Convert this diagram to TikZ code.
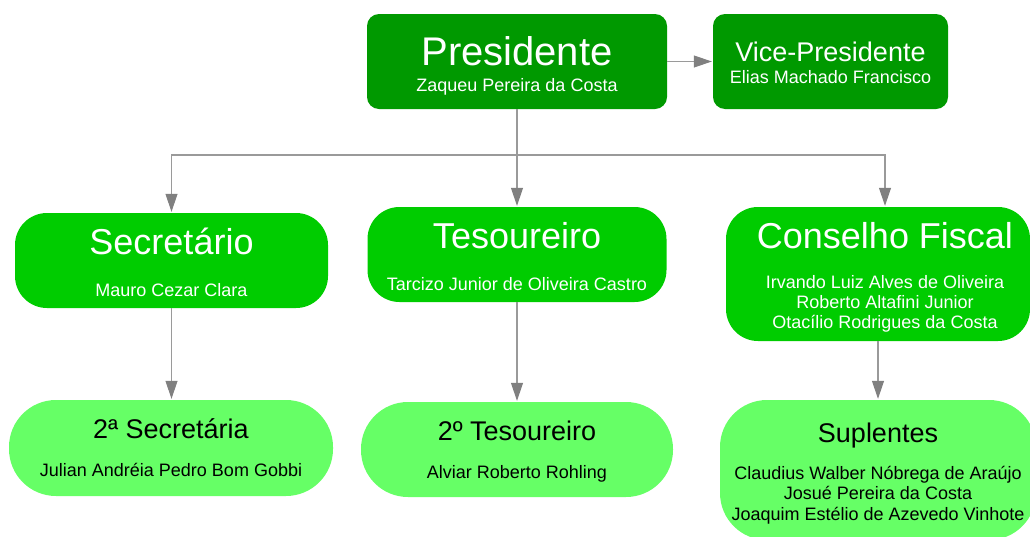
\documentclass[tikz,border=0pt]{standalone}
\usepackage{fontspec}
\setmainfont{Liberation Sans}
\usetikzlibrary{arrows.meta}
\definecolor{gdark}{HTML}{009900}
\definecolor{gmid}{HTML}{00CC00}
\definecolor{glight}{HTML}{66FF66}
\definecolor{conncol}{HTML}{9A9A9A}
\definecolor{tipcol}{HTML}{808080}
\begin{document}
\begin{tikzpicture}[x=1pt,y=-1pt,
  boxone/.style={rectangle, draw=none, fill=gdark, rounded corners=12pt, inner sep=0pt},
  boxtwo/.style={rectangle, draw=none, fill=gmid, rounded corners=32pt, inner sep=0pt},
  boxthree/.style={rectangle, draw=none, fill=glight, rounded corners=47pt, inner sep=0pt},
  txt/.style={anchor=base, inner sep=0pt},
  bigw/.style={txt, text=white, font=\fontsize{40}{48}\selectfont},
  midw/.style={txt, text=white, font=\fontsize{36}{43}\selectfont},
  smallw/.style={txt, text=white, font=\fontsize{27}{32}\selectfont},
  namew/.style={txt, text=white, font=\fontsize{18}{20}\selectfont},
  titleb/.style={txt, text=black, font=\fontsize{27}{32}\selectfont},
  nameb/.style={txt, text=black, font=\fontsize{18}{20.5}\selectfont},
  conn/.style={draw=conncol, line width=1.1pt},
  arr/.style={conn, -{Triangle[length=18pt,width=12pt,color=tipcol]}, shorten >=1pt}
]
\useasboundingbox (0,0) rectangle (1030,536);

% boxes
\node[boxone, minimum width=300pt, minimum height=95pt] (pres) at (517,61.5) {};
\node[boxone, minimum width=235pt, minimum height=95pt] (vice) at (830.5,61.5) {};
\node[boxtwo, minimum width=313pt, minimum height=95pt] (sec) at (171.5,260.5) {};
\node[boxtwo, minimum width=299pt, minimum height=95pt] (tes) at (517,254.5) {};
\node[boxtwo, minimum width=304pt, minimum height=134pt] (cons) at (878,274) {};
\node[boxthree, minimum width=324pt, minimum height=96pt] (sec2) at (171,448) {};
\node[boxthree, minimum width=312pt, minimum height=95pt] (tes2) at (517,449.5) {};
\node[boxthree, minimum width=316pt, minimum height=140pt] (sup) at (878,470) {};

% texts
\node[bigw] (presT) at (517,65) {Presidente};
\node[namew] (presN) at (517,91) {Zaqueu Pereira da Costa};
\node[smallw] (viceT) at (830.5,61.5) {Vice-Presidente};
\node[namew] (viceN) at (830.5,83) {Elias Machado Francisco};
\node[midw] (secT) at (171.5,254) {Secretário};
\node[namew] (secN) at (171.5,296) {Mauro Cezar Clara};
\node[midw] (tesT) at (517,248) {Tesoureiro};
\node[namew] (tesN) at (517,290) {Tarcizo Junior de Oliveira Castro};
\node[midw] (consT) at (885,248) {Conselho Fiscal};
\node[namew] (consNa) at (885,288) {Irvando Luiz Alves de Oliveira};
\node[namew] (consNb) at (885,308) {Roberto Altafini Junior};
\node[namew] (consNc) at (885,328) {Otacílio Rodrigues da Costa};
\node[titleb] (sec2T) at (171,438) {2ª Secretária};
\node[nameb] (sec2N) at (171,476) {Julian Andréia Pedro Bom Gobbi};
\node[titleb] (tes2T) at (517,440) {2º Tesoureiro};
\node[nameb] (tes2N) at (517,478) {Alviar Roberto Rohling};
\node[titleb] (supT) at (878,442) {Suplentes};
\node[nameb] (supNa) at (878,479) {Claudius Walber Nóbrega de Araújo};
\node[nameb] (supNb) at (878,499.5) {Josué Pereira da Costa};
\node[nameb] (supNc) at (878,520) {Joaquim Estélio de Azevedo Vinhote};

% connectors
\coordinate (bus) at (517,155);
\draw[arr] (pres.east) -- (vice.west);
\draw[conn] (pres.south) -- (bus);
\draw[arr] (bus) -| (sec.north);
\draw[arr] (bus) -- (tes.north);
\draw[arr] (bus) -| ([xshift=7pt]cons.north);
\draw[arr] (sec.south) -- (sec.south |- sec2.north);
\draw[arr] (tes.south) -- (tes2.north);
\draw[arr] (cons.south) -- (sup.north);
\end{tikzpicture}
\end{document}
